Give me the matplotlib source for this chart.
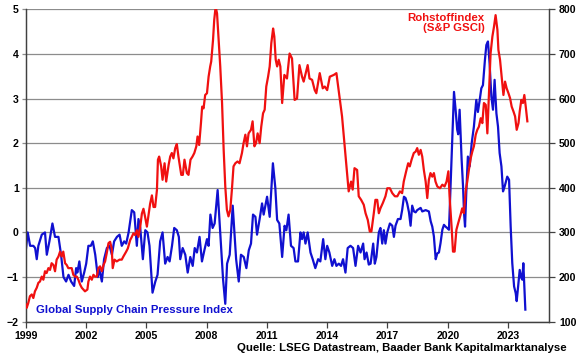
import matplotlib
matplotlib.use('Agg')
import matplotlib.pyplot as plt
import numpy as np

plt.rcParams['font.family'] = ['Liberation Sans', 'DejaVu Sans']
plt.rcParams['font.weight'] = 'bold'

# Global Supply Chain Pressure Index (left axis)
gscpi_year = [
    1999.00, 1999.10, 1999.22, 1999.38, 1999.47, 1999.55, 1999.63, 1999.80, 1999.96,
    2000.05, 2000.18, 2000.33, 2000.46, 2000.63, 2000.76, 2000.88, 2001.01, 2001.13,
    2001.26, 2001.41, 2001.51, 2001.57, 2001.67, 2001.79, 2001.91, 2002.01, 2002.12,
    2002.24, 2002.34, 2002.46, 2002.59, 2002.65, 2002.79, 2002.90, 2003.04, 2003.17,
    2003.29, 2003.40, 2003.54, 2003.67, 2003.78, 2003.90, 2004.00, 2004.12, 2004.28,
    2004.40, 2004.53, 2004.61, 2004.70, 2004.83, 2004.95, 2005.06, 2005.16, 2005.31,
    2005.45, 2005.56, 2005.69, 2005.81, 2005.94, 2006.06, 2006.16, 2006.28, 2006.39,
    2006.52, 2006.62, 2006.69, 2006.81, 2006.94, 2007.06, 2007.19, 2007.31, 2007.41,
    2007.52, 2007.65, 2007.77, 2007.89, 2008.02, 2008.10, 2008.19, 2008.30, 2008.40,
    2008.55, 2008.68, 2008.82, 2008.93, 2009.02, 2009.15, 2009.30, 2009.47, 2009.60,
    2009.71, 2009.85, 2009.98, 2010.10, 2010.21, 2010.31, 2010.43, 2010.51, 2010.64,
    2010.76, 2010.84, 2011.01, 2011.14, 2011.30, 2011.42, 2011.51, 2011.62, 2011.76,
    2011.88, 2011.97, 2012.08, 2012.20, 2012.33, 2012.42, 2012.55, 2012.67, 2012.75,
    2012.83, 2012.92, 2013.03, 2013.17, 2013.28, 2013.41, 2013.55, 2013.66, 2013.80,
    2013.91, 2014.00, 2014.11, 2014.25, 2014.36, 2014.46, 2014.58, 2014.69, 2014.79,
    2014.91, 2015.02, 2015.16, 2015.29, 2015.41, 2015.54, 2015.66, 2015.79, 2015.86,
    2015.96, 2016.07, 2016.16, 2016.29, 2016.37, 2016.45, 2016.57, 2016.65, 2016.74,
    2016.82, 2016.90, 2016.99, 2017.12, 2017.24, 2017.32, 2017.40, 2017.52, 2017.65,
    2017.73, 2017.82, 2017.90, 2017.98, 2018.07, 2018.15, 2018.23, 2018.32, 2018.40,
    2018.48, 2018.65, 2018.73, 2018.90, 2019.06, 2019.15, 2019.23, 2019.31, 2019.40,
    2019.48, 2019.56, 2019.64, 2019.73, 2019.81, 2019.89, 2019.97, 2020.06, 2020.19,
    2020.31, 2020.39, 2020.47, 2020.52, 2020.59, 2020.69, 2020.76, 2020.81, 2020.86,
    2020.92, 2021.00, 2021.09, 2021.19, 2021.30, 2021.42, 2021.50, 2021.59, 2021.67,
    2021.75, 2021.85, 2021.92, 2022.00, 2022.08, 2022.17, 2022.25, 2022.33, 2022.42,
    2022.50, 2022.58, 2022.67, 2022.75, 2022.83, 2022.96, 2023.05, 2023.13, 2023.21,
    2023.30, 2023.38, 2023.43, 2023.50, 2023.58, 2023.66, 2023.71, 2023.76, 2023.81,
    2023.86,
]
gscpi = [
    -0.43, 0.00, -0.30, -0.30, -0.35, -0.60, -0.30, -0.05, 0.00,
    -0.50, -0.20, 0.20, -0.10, -0.10, -0.50, -1.00, -1.10, -0.95,
    -1.10, -1.20, -0.80, -0.90, -0.65, -1.10, -0.90, -0.70, -0.30,
    -0.30, -0.20, -0.50, -1.00, -0.80, -1.10, -0.60, -0.35, -0.30,
    -0.50, -0.20, -0.10, -0.05, -0.30, -0.20, -0.25, 0.00, 0.50,
    0.45, -0.30, 0.30, 0.10, -0.60, 0.05, 0.00, -0.30, -1.35,
    -1.10, -0.95, -0.20, 0.00, -0.70, -0.55, -0.65, -0.30, 0.10,
    0.05, -0.10, -0.60, -0.35, -0.50, -0.90, -0.55, -0.75, -0.35,
    -0.45, -0.10, -0.65, -0.40, -0.15, -0.30, 0.40, 0.10, 0.20,
    0.95, 0.00, -1.05, -1.60, -0.70, -0.50, 0.60, -0.60, -1.10,
    -0.50, -0.55, -0.80, -0.40, -0.25, 0.40, 0.35, -0.05, 0.30,
    0.65, 0.40, 0.80, 0.35, 1.55, 1.00, 0.28, 0.20, -0.55,
    0.15, 0.05, 0.40, -0.30, -0.35, -0.65, -0.65, 0.00, -0.15,
    0.00, -0.25, 0.00, -0.45, -0.60, -0.80, -0.60, -0.65, -0.15,
    -0.60, -0.30, -0.45, -0.75, -0.60, -0.75, -0.70, -0.75, -0.60,
    -0.90, -0.35, -0.30, -0.35, -0.75, -0.30, -0.45, -0.25, -0.60,
    -0.45, -0.72, -0.70, -0.25, -0.70, -0.55, 0.00, 0.10, -0.25,
    0.05, -0.25, 0.00, 0.20, 0.15, -0.10, 0.15, 0.30, 0.30,
    0.50, 0.80, 0.77, 0.65, 0.45, 0.15, 0.60, 0.47, 0.45,
    0.50, 0.55, 0.47, 0.50, 0.47, 0.25, 0.13, -0.09, -0.60,
    -0.47, -0.45, -0.24, 0.06, 0.17, 0.13, 0.10, 0.06, 1.70,
    3.15, 2.75, 2.30, 2.20, 2.75, 1.63, 1.03, 0.43, 0.13,
    0.88, 1.70, 1.48, 2.00, 2.37, 2.97, 2.70, 2.97, 3.23,
    3.30, 3.87, 4.20, 4.28, 3.80, 3.04, 2.75, 3.42, 2.67,
    2.37, 1.78, 1.48, 0.92, 1.03, 1.25, 1.18, 0.13, -0.69,
    -1.21, -1.36, -1.54, -1.21, -0.84, -1.02, -1.06, -0.69, -1.21,
    -1.73,
]

# S&P GSCI commodity index (right axis)
gsci_year = [
    1999.00, 1999.05, 1999.13, 1999.21, 1999.30, 1999.38, 1999.46, 1999.55, 1999.63,
    1999.71, 1999.80, 1999.88, 1999.96, 2000.04, 2000.13, 2000.21, 2000.29, 2000.38,
    2000.46, 2000.54, 2000.63, 2000.71, 2000.79, 2000.87, 2000.96, 2001.04, 2001.12,
    2001.21, 2001.29, 2001.37, 2001.46, 2001.54, 2001.62, 2001.71, 2001.79, 2001.87,
    2001.95, 2002.07, 2002.12, 2002.20, 2002.29, 2002.37, 2002.45, 2002.54, 2002.62,
    2002.70, 2002.79, 2002.87, 2002.95, 2003.03, 2003.12, 2003.20, 2003.28, 2003.33,
    2003.42, 2003.53, 2003.67, 2003.78, 2003.86, 2004.00, 2004.08, 2004.20, 2004.28,
    2004.36, 2004.45, 2004.53, 2004.61, 2004.70, 2004.78, 2004.86, 2004.94, 2005.03,
    2005.11, 2005.19, 2005.28, 2005.36, 2005.44, 2005.53, 2005.58, 2005.64, 2005.74,
    2005.81, 2005.91, 2005.99, 2006.11, 2006.19, 2006.27, 2006.35, 2006.44, 2006.52,
    2006.60, 2006.74, 2006.82, 2006.90, 2007.02, 2007.10, 2007.20, 2007.30, 2007.39,
    2007.49, 2007.55, 2007.63, 2007.72, 2007.78, 2007.85, 2007.93, 2008.02, 2008.10,
    2008.18, 2008.23, 2008.32, 2008.38, 2008.45, 2008.52, 2008.60, 2008.68, 2008.77,
    2008.85, 2008.93, 2009.01, 2009.09, 2009.18, 2009.26, 2009.34, 2009.43, 2009.54,
    2009.64, 2009.76, 2009.84, 2009.93, 2010.01, 2010.09, 2010.21, 2010.29, 2010.38,
    2010.46, 2010.54, 2010.64, 2010.72, 2010.81, 2010.89, 2010.97, 2011.06, 2011.14,
    2011.22, 2011.31, 2011.37, 2011.44, 2011.51, 2011.59, 2011.67, 2011.76, 2011.87,
    2012.00, 2012.13, 2012.25, 2012.38, 2012.50, 2012.62, 2012.75, 2012.83, 2013.03,
    2013.12, 2013.25, 2013.38, 2013.46, 2013.63, 2013.78, 2013.88, 2014.00, 2014.13,
    2014.33, 2014.46, 2014.61, 2014.74, 2014.86, 2014.96, 2015.07, 2015.19, 2015.27,
    2015.36, 2015.49, 2015.57, 2015.69, 2015.82, 2015.91, 2016.02, 2016.12, 2016.20,
    2016.32, 2016.40, 2016.49, 2016.57, 2016.65, 2016.77, 2016.90, 2016.99, 2017.12,
    2017.24, 2017.37, 2017.49, 2017.62, 2017.73, 2017.81, 2017.93, 2018.03, 2018.11,
    2018.20, 2018.31, 2018.40, 2018.48, 2018.56, 2018.65, 2018.73, 2018.81, 2018.90,
    2018.98, 2019.06, 2019.14, 2019.23, 2019.31, 2019.39, 2019.48, 2019.61, 2019.73,
    2019.84, 2019.94, 2020.03, 2020.09, 2020.19, 2020.26, 2020.34, 2020.43, 2020.52,
    2020.64, 2020.72, 2020.80, 2020.89, 2020.97, 2021.05, 2021.14, 2021.22, 2021.30,
    2021.39, 2021.47, 2021.55, 2021.64, 2021.72, 2021.80, 2021.89, 2021.97, 2022.05,
    2022.13, 2022.22, 2022.30, 2022.38, 2022.47, 2022.52, 2022.60, 2022.68, 2022.77,
    2022.85, 2022.93, 2023.02, 2023.10, 2023.18, 2023.27, 2023.35, 2023.43, 2023.52,
    2023.58, 2023.66, 2023.74, 2023.81, 2023.88, 2023.96,
]
gsci = [
    139, 131, 142, 157, 161, 153, 168, 176, 187,
    190, 201, 194, 213, 209, 220, 216, 231, 227,
    213, 239, 246, 257, 246, 257, 231, 227, 220,
    220, 220, 205, 201, 201, 194, 183, 176, 172,
    168, 172, 190, 201, 194, 205, 201, 201, 220,
    224, 213, 227, 235, 253, 276, 279, 264, 220,
    239, 235, 239, 239, 246, 257, 264, 283, 290,
    298, 294, 305, 290, 313, 342, 353, 335, 313,
    339, 364, 383, 357, 357, 395, 463, 470, 448,
    418, 455, 414, 451, 470, 478, 466, 489, 498,
    470, 429, 429, 463, 433, 429, 463, 470, 478,
    493, 515, 496, 545, 582, 578, 608, 612, 649,
    672, 683, 731, 776, 806, 791, 731, 672, 590,
    485, 403, 351, 336, 351, 396, 448, 455, 459,
    455, 478, 500, 519, 493, 522, 530, 549, 493,
    500, 522, 500, 537, 567, 575, 627, 649, 672,
    724, 757, 739, 687, 672, 687, 672, 590, 653,
    645, 701, 690, 597, 600, 675, 649, 638, 675,
    645, 642, 619, 612, 657, 623, 627, 619, 649,
    653, 657, 604, 560, 500, 448, 392, 414, 396,
    444, 440, 381, 373, 362, 343, 328, 302, 302,
    343, 373, 373, 343, 354, 366, 381, 399, 399,
    388, 381, 381, 392, 388, 414, 437, 455, 448,
    463, 478, 481, 489, 474, 485, 470, 440, 414,
    377, 418, 433, 425, 433, 414, 403, 399, 407,
    403, 414, 437, 381, 313, 257, 257, 306, 321,
    340, 354, 343, 392, 414, 440, 466, 481, 493,
    519, 530, 537, 556, 545, 590, 586, 522, 612,
    701, 739, 761, 787, 754, 709, 687, 649, 608,
    638, 623, 612, 601, 582, 571, 560, 530, 545,
    571, 597, 590, 608, 582, 549,
]

left_ticks = [-2, -1, 0, 1, 2, 3, 4, 5]
right_ticks = [100, 200, 300, 400, 500, 600, 700, 800]
year_ticks = [1999, 2002, 2005, 2008, 2011, 2014, 2017, 2020, 2023]

red = '#F01010'
blue = '#1010D0'
spine_col = '#404040'
grid_col = '#8C8C8C'

fig = plt.figure(figsize=(5.8, 3.59), dpi=100)
ax = fig.add_axes([0.0443, 0.104, 0.9027, 0.870])
ax2 = ax.twinx()

ax.plot(gscpi_year, gscpi, color=blue, lw=1.6, zorder=3)
ax2.plot(gsci_year, gsci, color=red, lw=1.6, zorder=3)

ax.set_xlim(1999, 2025.05)
ax.set_ylim(-2, 5)
ax2.set_ylim(100, 800)
ax.set_yticks(left_ticks)
ax2.set_yticks(right_ticks)
ax.set_xticks(year_ticks)

ax.grid(axis='y', color=grid_col, lw=0.9)
ax.set_axisbelow(True)

for a in (ax, ax2):
    a.spines['top'].set_visible(False)
    for s in ('left', 'right', 'bottom'):
        a.spines[s].set_color(spine_col)
        a.spines[s].set_linewidth(0.9)
ax.tick_params(axis='x', direction='out', length=4, width=0.9, color=spine_col,
               labelsize=7.6, pad=2.5)
ax.tick_params(axis='y', direction='out', length=3, width=0.9, color=grid_col,
               labelsize=7.6, pad=2)
ax2.tick_params(axis='y', direction='out', length=4, width=0.9, color=spine_col,
                labelsize=7.6, pad=3)
for lab in ax.get_xticklabels() + ax.get_yticklabels() + ax2.get_yticklabels():
    lab.set_fontweight('bold')

ax2.text(2021.83, 792, 'Rohstoffindex\n(S&P GSCI)', color=red, fontsize=8.2,
         fontweight='bold', ha='right', va='top', linespacing=1.0)
ax.text(1999.5, -1.85, 'Global Supply Chain Pressure Index', color=blue,
        fontsize=8.2, fontweight='bold', ha='left', va='bottom')
fig.text(0.977, 0.030, 'Quelle: LSEG Datastream, Baader Bank Kapitalmarktanalyse',
         fontsize=8.2, fontweight='bold', ha='right', va='center')

fig.savefig('out.png', dpi=100)
